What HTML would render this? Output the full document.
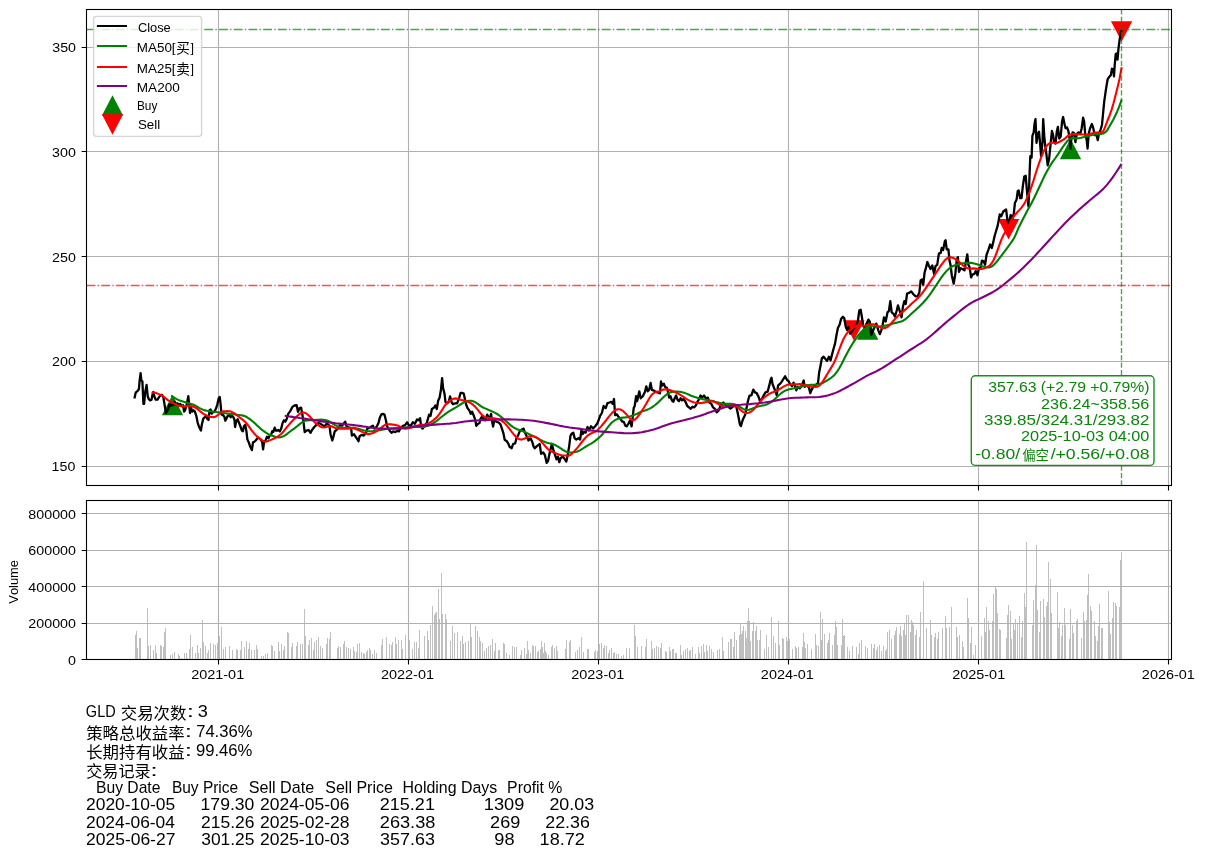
<!DOCTYPE html>
<html lang="zh"><head><meta charset="utf-8"><title>GLD</title>
<style>html,body{margin:0;padding:0;background:#fff}svg{display:block}text{font-family:"Liberation Sans",sans-serif;font-kerning:none}</style></head>
<body>
<svg width="1205" height="857" viewBox="0 0 1205 857" font-family="'Liberation Sans', sans-serif">
<rect width="1205" height="857" fill="#fff"/>
<defs><filter id="nf" x="-5%" y="-5%" width="110%" height="110%" color-interpolation-filters="sRGB"><feOffset dx="0" dy="0"/></filter></defs>
<clipPath id="ca"><rect x="86.5" y="9.5" width="1085.0" height="476.0"/></clipPath>
<g clip-path="url(#ca)">
<path d="M218.5 9.5V485.5M408.5 9.5V485.5M598.5 9.5V485.5M788.5 9.5V485.5M978.5 9.5V485.5M1168.5 9.5V485.5M86.5 466.5H1171.5M86.5 361.5H1171.5M86.5 256.5H1171.5M86.5 151.5H1171.5M86.5 47.5H1171.5" stroke="#b0b0b0" stroke-width="1.1" fill="none"/>
<path d="M172.5 396.3L182.0 414.5H163.0Z" fill="#008000" stroke="#008000" stroke-width="1.39" stroke-miterlimit="10"/>
<path d="M853.9 339.1L863.4 320.9H844.4Z" fill="#f00" stroke="#f00" stroke-width="1.39" stroke-miterlimit="10"/>
<path d="M867.7 320.8L877.2 339.0H858.2Z" fill="#008000" stroke="#008000" stroke-width="1.39" stroke-miterlimit="10"/>
<path d="M1008.6 238.0L1018.1 219.8H999.1Z" fill="#f00" stroke="#f00" stroke-width="1.39" stroke-miterlimit="10"/>
<path d="M1070.5 140.3L1080.0 158.5H1061.0Z" fill="#008000" stroke="#008000" stroke-width="1.39" stroke-miterlimit="10"/>
<path d="M1121.6 40.1L1131.1 21.9H1112.1Z" fill="#f00" stroke="#f00" stroke-width="1.39" stroke-miterlimit="10"/>
<path d="M134.4 398.6L135.7 392.7L137.5 391.0L138.9 389.2L139.6 380.8L140.6 373.1L141.3 380.1L142.4 381.5L143.4 403.9L144.1 403.9L145.2 392.0L146.6 385.0L147.7 396.2L148.7 399.0L150.1 400.4L151.5 399.7L152.5 394.8L153.3 392.0L154.3 396.2L155.7 399.7L157.5 399.7L159.2 396.9L160.6 395.1L162.0 394.8L163.4 397.6L164.8 406.0L165.9 413.0L166.9 411.6L168.3 408.8L169.3 404.6L170.7 406.0L171.8 403.9L173.2 405.3L174.6 401.8L176.0 404.6L177.4 403.2L178.8 405.3L180.2 403.9L181.6 406.0L183.0 405.3L184.1 411.6L185.1 410.2L186.5 405.3L187.5 400.4L188.3 396.2L189.0 403.2L190.0 413.0L191.1 407.4L192.1 411.6L193.5 410.2L194.9 411.6L196.3 415.8L197.7 422.8L199.1 427.0L200.9 430.5L201.9 424.2L203.3 418.6L204.7 417.2L206.1 415.8L207.1 418.6L208.5 420.0L209.6 410.2L210.7 409.5L211.7 413.7L213.1 412.3L214.5 411.6L215.9 408.8L217.3 404.6L218.7 398.3L219.7 396.9L220.5 403.2L221.5 414.4L222.9 415.1L224.3 416.5L225.3 420.7L226.4 418.6L227.8 415.8L229.2 415.1L230.6 417.2L232.0 415.8L233.4 417.2L234.5 420.0L235.1 427.0L236.2 421.4L237.6 419.3L239.0 422.8L240.4 426.3L241.8 430.5L242.9 431.2L243.9 426.3L245.3 424.9L246.4 431.2L247.4 439.6L248.8 442.4L250.2 446.6L251.9 450.1L253.0 442.4L254.4 441.7L256.5 439.6L257.9 437.5L259.3 438.2L260.7 439.6L262.1 441.7L263.1 449.4L264.2 441.7L265.6 440.3L267.0 436.8L268.4 438.2L269.8 435.4L271.2 434.7L272.3 431.2L273.3 431.9L274.7 427.7L275.7 430.5L277.5 430.5L278.4 430.0L279.8 431.4L281.2 428.6L282.6 423.0L284.0 420.2L285.4 421.6L286.8 418.8L288.2 413.9L290.3 411.1L292.4 406.9L294.5 405.5L296.6 405.1L298.0 411.8L299.4 408.3L301.1 407.6L302.5 415.3L303.6 423.0L304.7 432.1L306.4 430.7L308.5 430.0L310.6 432.8L312.0 430.0L314.1 427.2L316.2 425.1L318.3 423.0L320.4 423.7L322.5 425.1L324.6 426.5L326.0 424.4L327.4 423.7L329.5 425.8L330.5 434.2L332.3 440.5L333.7 435.6L334.7 431.4L336.5 430.0L338.6 427.2L340.7 424.4L342.1 425.8L343.5 423.7L345.2 421.6L346.3 425.8L347.7 427.2L349.8 427.9L351.2 428.6L351.9 435.6L354.0 434.2L355.4 436.3L356.8 438.4L358.5 441.2L359.6 436.3L361.7 434.9L363.8 435.6L365.9 432.8L367.3 428.6L369.4 427.9L371.5 426.5L372.9 425.8L374.3 428.6L375.7 427.9L377.1 425.8L378.5 423.0L379.9 417.4L381.3 414.6L382.7 413.9L384.5 414.6L385.9 420.2L386.9 425.8L388.3 428.6L389.7 430.7L391.5 432.8L393.2 431.4L395.3 432.1L397.4 430.7L398.8 431.4L400.9 427.9L403.0 425.8L405.1 425.1L407.2 422.3L408.6 425.1L410.7 425.8L412.8 422.3L414.9 423.7L417.0 419.5L418.4 420.2L420.1 418.1L421.2 427.2L422.6 428.6L424.7 425.8L426.8 423.0L429.1 414.6L430.5 416.0L431.9 409.0L434.0 407.6L435.4 405.5L436.8 409.0L438.2 400.6L439.6 397.8L441.0 389.4L442.1 378.2L443.1 388.0L444.5 393.6L445.5 402.0L446.9 403.4L448.7 402.0L450.1 396.4L451.5 402.0L452.9 404.1L455.0 403.4L457.1 403.4L459.2 397.8L460.6 392.9L462.0 392.9L463.7 393.6L464.8 398.5L466.2 404.8L467.6 408.3L469.3 410.4L470.7 413.9L472.1 411.8L473.9 416.0L475.3 420.2L476.3 425.8L478.1 423.7L479.5 423.0L480.5 418.8L482.3 416.0L483.7 419.5L485.5 420.2L487.2 414.6L488.6 417.4L490.0 418.1L491.1 413.9L492.1 421.6L493.1 426.5L494.2 420.2L496.3 421.6L498.4 422.3L500.5 424.4L501.9 428.6L503.3 432.8L504.7 439.8L506.8 441.2L508.5 444.0L509.6 446.8L511.7 448.2L513.1 444.0L515.2 443.3L516.6 437.7L518.0 435.6L519.7 431.4L521.1 430.0L523.6 428.6L525.0 432.8L526.4 435.6L528.5 440.5L530.6 438.4L532.0 441.2L533.7 446.8L534.8 448.2L536.9 446.1L539.7 444.0L541.1 453.8L543.2 452.4L544.9 455.2L546.7 462.9L548.1 460.8L549.5 453.8L550.5 449.6L551.9 444.0L553.3 449.6L555.1 455.2L556.5 459.4L557.9 456.6L559.3 462.2L560.7 458.0L562.8 456.6L564.9 459.4L566.3 461.5L567.7 455.2L569.1 446.8L570.5 435.6L571.9 433.5L573.3 432.8L574.7 438.4L576.3 439.6L578.4 438.2L580.1 439.6L581.5 429.8L582.6 434.0L584.0 431.9L585.7 432.6L587.5 427.0L588.9 430.5L591.0 426.3L593.1 428.4L595.2 426.3L597.3 423.5L598.7 420.0L600.1 415.8L601.9 413.0L603.6 406.0L605.7 408.1L607.5 403.2L609.5 402.5L611.3 401.8L612.7 403.9L614.0 399.0L614.5 406.0L615.1 415.1L616.9 414.4L618.3 416.5L620.4 418.6L622.1 421.4L623.9 422.1L625.3 425.6L626.7 426.3L628.5 423.5L629.9 420.7L631.6 426.3L632.7 417.2L633.7 408.1L634.7 406.0L636.1 396.2L637.2 401.1L639.3 391.3L640.7 398.3L642.8 396.2L644.9 392.0L646.3 386.4L647.7 391.3L649.1 389.9L650.6 382.9L651.9 389.9L654.0 390.6L656.1 392.0L658.2 392.7L660.0 393.4L661.0 381.5L662.1 385.7L663.8 383.6L665.2 387.1L666.9 387.8L668.0 392.0L669.1 397.6L670.5 396.2L671.9 400.4L673.3 401.8L674.7 398.3L676.1 395.5L677.5 399.7L678.9 401.1L680.6 398.3L682.0 400.4L683.7 399.0L685.5 401.8L687.3 406.0L689.0 407.4L690.7 408.8L692.5 406.7L694.3 407.4L696.0 405.3L697.4 401.8L698.8 399.7L700.5 395.5L702.3 397.6L704.1 395.5L705.8 398.3L707.9 397.6L709.3 402.5L711.4 403.9L713.1 407.4L714.9 408.8L716.7 412.3L718.4 410.9L720.5 406.0L721.9 403.9L723.3 402.5L725.6 405.0L727.7 406.4L730.5 408.5L733.3 406.4L736.1 405.7L737.5 412.0L738.9 419.0L739.9 424.6L741.0 426.0L742.1 421.8L743.1 419.0L745.2 414.8L746.6 407.8L748.0 400.8L749.4 395.9L751.5 395.2L753.3 389.6L755.0 392.4L756.7 393.1L758.5 396.6L759.9 400.8L761.3 400.1L763.4 395.9L765.5 392.4L767.6 391.7L769.3 385.4L770.4 380.5L771.5 377.7L772.5 384.0L773.9 387.5L775.3 391.0L776.7 395.2L778.1 385.4L779.9 384.0L781.6 381.9L783.3 379.1L785.1 376.3L786.9 379.8L788.6 381.2L790.0 384.0L792.1 386.1L793.5 382.6L794.9 385.4L796.3 390.3L797.7 386.8L799.8 388.2L801.9 385.4L803.7 380.5L804.7 386.8L806.8 385.4L808.9 387.5L810.3 393.1L811.7 389.6L813.5 386.1L815.9 384.7L818.0 383.3L819.1 372.8L820.5 365.8L821.9 358.1L823.6 356.7L825.3 358.8L827.1 360.9L828.9 356.7L830.6 360.2L832.0 354.6L833.7 348.3L835.1 343.4L836.5 335.0L837.9 328.0L839.7 324.5L841.1 318.9L842.9 316.8L844.3 318.2L845.7 326.6L847.1 330.1L848.5 327.3L850.2 333.6L852.3 330.8L854.1 328.0L856.1 325.2L857.9 321.0L859.3 310.5L860.7 309.8L862.1 318.2L863.1 325.9L864.9 327.3L866.3 324.5L868.4 319.6L869.8 321.7L871.2 335.0L873.3 330.1L876.3 323.6L878.4 330.6L879.8 334.1L881.2 330.6L882.6 325.0L884.0 317.3L885.7 321.5L887.5 312.4L888.9 311.0L890.3 301.2L891.7 312.4L893.5 313.8L894.9 316.6L896.6 311.0L898.0 305.4L899.7 311.0L901.5 317.3L902.9 306.8L904.3 301.2L905.7 304.0L907.1 293.5L909.2 292.8L911.3 291.4L913.4 294.2L915.5 296.3L917.6 296.3L919.3 292.8L920.7 280.2L922.1 279.5L923.2 285.1L924.6 272.5L926.0 267.6L927.4 262.0L928.8 265.5L930.5 269.0L932.3 265.5L934.1 273.9L935.5 266.2L937.2 264.8L938.9 253.6L940.7 252.9L941.7 248.0L943.1 250.1L944.9 241.0L945.6 240.3L946.7 249.4L948.4 249.4L949.5 260.6L950.5 264.8L951.9 276.0L953.7 283.7L955.4 273.2L956.8 259.2L957.9 257.1L959.0 271.8L960.7 268.3L962.4 269.0L964.5 270.4L965.9 262.0L967.3 254.3L968.4 264.8L969.7 267.6L971.1 277.4L972.5 274.6L974.3 273.9L975.7 271.1L977.5 275.3L978.9 268.3L980.6 267.6L982.0 260.6L983.7 261.3L985.1 264.8L986.5 255.0L988.3 250.1L990.1 244.5L991.8 248.0L993.2 242.4L994.6 236.1L996.0 231.2L997.7 225.6L999.8 214.3L1001.2 216.4L1003.3 211.5L1006.1 209.4L1007.5 220.6L1008.9 223.4L1010.7 215.0L1012.4 219.2L1013.8 213.6L1014.9 203.1L1016.6 199.6L1017.7 191.2L1018.7 190.5L1020.1 198.2L1021.5 198.2L1022.9 185.6L1024.3 176.5L1025.7 175.8L1027.1 192.6L1028.5 206.6L1029.5 175.8L1030.3 156.2L1031.6 157.6L1032.4 135.9L1033.7 132.4L1034.5 124.0L1035.5 119.1L1036.5 142.9L1037.9 133.8L1039.0 131.7L1040.1 143.6L1041.1 156.2L1042.5 142.2L1043.2 119.1L1044.3 136.6L1045.3 146.4L1046.3 153.4L1047.7 165.3L1049.1 159.0L1050.5 145.0L1051.9 131.0L1053.0 134.5L1054.1 142.2L1055.5 143.6L1056.9 131.0L1057.9 126.8L1059.3 138.7L1060.7 136.6L1062.1 121.2L1063.1 117.0L1064.5 124.0L1065.6 128.2L1067.0 127.5L1068.4 131.0L1069.5 138.0L1070.5 148.5L1071.5 138.0L1072.6 132.4L1074.0 133.1L1075.4 142.2L1076.8 133.8L1078.5 132.4L1080.3 133.8L1081.7 128.2L1083.1 117.7L1084.1 121.2L1085.2 133.8L1086.6 139.4L1087.6 148.5L1088.7 133.8L1090.1 128.2L1091.9 124.0L1093.3 128.2L1094.7 135.2L1096.4 134.5L1097.8 140.1L1098.9 133.8L1100.6 129.6L1102.0 124.7L1104.2 101.6L1105.6 91.8L1106.7 84.8L1107.7 79.2L1109.1 77.1L1110.9 75.0L1111.9 68.7L1113.3 69.4L1114.0 76.4L1114.7 65.2L1115.7 54.0L1117.1 53.3L1117.5 59.6L1118.5 48.4L1119.6 40.0L1120.7 33.0L1121.7 30.2" stroke="#000" stroke-width="2.3" fill="none" stroke-linejoin="round" stroke-linecap="butt"/>
<path d="M171.1 395.5L173.1 396.9L175.1 398.2L177.1 399.4L179.1 400.2L181.1 400.9L183.1 401.6L185.1 402.2L187.1 402.8L189.1 403.3L191.1 403.9L193.1 404.6L195.1 405.5L197.1 406.6L199.1 407.8L201.1 408.9L203.1 409.8L205.1 410.4L207.1 410.8L209.1 411.1L211.1 411.3L213.1 411.6L215.1 411.8L217.1 412.1L219.1 412.3L221.1 412.6L223.1 412.9L225.1 413.2L227.1 413.5L229.1 413.8L231.1 414.0L233.1 414.3L235.1 414.5L237.1 414.8L239.1 415.0L241.1 415.2L243.1 415.6L245.1 416.3L247.1 417.3L249.1 418.6L251.1 420.1L253.1 421.7L255.1 423.5L257.1 425.5L259.1 427.3L261.1 429.1L263.1 430.7L265.1 432.1L267.1 433.4L269.1 434.5L271.1 435.4L273.1 436.1L275.1 436.8L277.1 437.2L279.1 437.4L281.1 437.1L283.1 436.4L285.1 435.3L287.1 433.9L289.1 432.3L291.1 430.7L293.1 429.3L295.1 427.9L297.1 426.3L299.1 424.6L301.1 423.0L303.1 421.6L305.1 420.8L307.1 420.4L309.1 420.2L311.1 420.2L313.1 420.1L315.1 420.0L317.1 419.8L319.1 419.7L321.1 419.6L323.1 419.8L325.1 420.1L327.1 420.6L329.1 421.3L331.1 422.5L333.1 423.8L335.1 425.1L337.1 426.2L339.1 427.0L341.1 427.6L343.1 427.8L345.1 427.8L347.1 427.7L349.1 427.6L351.1 427.7L353.1 427.8L355.1 428.1L357.1 428.5L359.1 428.9L361.1 429.6L363.1 430.2L365.1 430.8L367.1 431.2L369.1 431.3L371.1 431.2L373.1 431.0L375.1 430.7L377.1 430.4L379.1 430.2L381.1 429.9L383.1 429.5L385.1 429.1L387.1 428.8L389.1 428.6L391.1 428.4L393.1 428.2L395.1 428.1L397.1 428.0L399.1 427.9L401.1 427.9L403.1 427.8L405.1 427.6L407.1 427.4L409.1 427.2L411.1 427.1L413.1 427.0L415.1 426.9L417.1 426.9L419.1 426.9L421.1 427.0L423.1 427.0L425.1 426.6L427.1 426.0L429.1 425.2L431.1 424.3L433.1 423.2L435.1 422.0L437.1 420.6L439.1 419.0L441.1 417.3L443.1 415.7L445.1 414.1L447.1 412.7L449.1 411.4L451.1 410.1L453.1 409.0L455.1 407.8L457.1 406.6L459.1 405.3L461.1 404.0L463.1 402.8L465.1 401.8L467.1 401.2L469.1 400.8L471.1 400.8L473.1 401.2L475.1 402.1L477.1 403.3L479.1 404.8L481.1 406.3L483.1 407.5L485.1 408.4L487.1 409.2L489.1 410.1L491.1 411.0L493.1 411.9L495.1 412.9L497.1 414.0L499.1 415.3L501.1 416.9L503.1 418.5L505.1 420.2L507.1 422.0L509.1 423.9L511.1 425.6L513.1 427.1L515.1 428.3L517.1 429.2L519.1 429.9L521.1 430.6L523.1 431.3L525.1 432.2L527.1 433.1L529.1 434.1L531.1 435.1L533.1 436.1L535.1 437.1L537.1 438.1L539.1 439.1L541.1 440.1L543.1 441.1L545.1 442.0L547.1 442.7L549.1 443.2L551.1 443.6L553.1 444.1L555.1 445.0L557.1 446.1L559.1 447.4L561.1 448.7L563.1 450.0L565.1 451.2L567.1 452.0L569.1 452.4L571.1 452.5L573.1 452.3L575.1 452.0L577.1 451.6L579.1 450.8L581.1 449.7L583.1 448.4L585.1 447.0L587.1 445.8L589.1 444.7L591.1 443.6L593.1 442.4L595.1 440.9L597.1 439.4L599.1 437.6L601.1 435.7L603.1 433.5L605.1 431.0L607.1 428.2L609.1 425.6L611.1 423.3L613.1 421.5L615.1 420.1L617.1 419.1L619.1 418.4L621.1 417.9L623.1 417.6L625.1 417.4L627.1 417.1L629.1 416.7L631.1 416.1L633.1 415.4L635.1 414.6L637.1 413.7L639.1 412.7L641.1 411.8L643.1 411.1L645.1 410.4L647.1 409.7L649.1 408.9L651.1 407.8L653.1 406.5L655.1 405.0L657.1 403.4L659.1 401.5L661.1 399.6L663.1 397.6L665.1 395.7L667.1 394.0L669.1 392.8L671.1 392.1L673.1 391.7L675.1 391.6L677.1 391.5L679.1 391.7L681.1 391.9L683.1 392.4L685.1 393.1L687.1 393.9L689.1 394.8L691.1 395.7L693.1 396.4L695.1 397.1L697.1 397.7L699.1 398.3L701.1 398.8L703.1 399.3L705.1 399.7L707.1 400.0L709.1 400.4L711.1 400.7L713.1 401.1L715.1 401.7L717.1 402.2L719.1 402.7L721.1 403.2L723.1 403.6L725.1 403.8L727.1 403.9L729.1 403.9L731.1 403.9L733.1 404.1L735.1 404.5L737.1 405.2L739.1 406.4L741.1 407.7L743.1 408.9L745.1 409.8L747.1 410.0L749.1 409.7L751.1 409.1L753.1 408.3L755.1 407.5L757.1 406.8L759.1 406.2L761.1 405.8L763.1 405.4L765.1 404.9L767.1 404.2L769.1 403.3L771.1 402.1L773.1 400.6L775.1 398.8L777.1 396.9L779.1 395.0L781.1 393.3L783.1 391.9L785.1 390.7L787.1 389.9L789.1 389.3L791.1 388.9L793.1 388.5L795.1 388.0L797.1 387.6L799.1 387.2L801.1 386.8L803.1 386.3L805.1 385.8L807.1 385.3L809.1 385.0L811.1 384.8L813.1 384.7L815.1 384.7L817.1 384.5L819.1 384.2L821.1 383.6L823.1 382.8L825.1 381.7L827.1 380.5L829.1 379.1L831.1 377.8L833.1 376.2L835.1 374.2L837.1 371.6L839.1 368.5L841.1 364.9L843.1 361.0L845.1 357.1L847.1 353.3L849.1 349.6L851.1 346.1L853.1 342.8L855.1 339.8L857.1 337.0L859.1 334.5L861.1 332.2L863.1 330.2L865.1 328.6L867.1 327.5L869.1 326.7L871.1 326.3L873.1 326.3L875.1 326.5L877.1 326.8L879.1 326.8L881.1 326.4L883.1 326.0L885.1 325.6L887.1 325.2L889.1 324.7L891.1 324.2L893.1 323.6L895.1 323.0L897.1 322.6L899.1 322.1L901.1 321.6L903.1 320.7L905.1 319.4L907.1 317.8L909.1 315.9L911.1 314.0L913.1 312.2L915.1 310.5L917.1 308.6L919.1 306.7L921.1 304.7L923.1 302.7L925.1 300.5L927.1 298.2L929.1 295.6L931.1 292.8L933.1 289.8L935.1 286.8L937.1 283.8L939.1 280.9L941.1 277.9L943.1 275.2L945.1 272.6L947.1 270.4L949.1 268.5L951.1 267.1L953.1 266.0L955.1 265.2L957.1 264.5L959.1 264.0L961.1 263.6L963.1 263.3L965.1 263.1L967.1 262.9L969.1 262.8L971.1 262.9L973.1 263.2L975.1 263.7L977.1 264.3L979.1 265.0L981.1 265.8L983.1 266.5L985.1 267.1L987.1 267.5L989.1 267.4L991.1 266.8L993.1 265.5L995.1 263.6L997.1 261.3L999.1 258.7L1001.1 256.1L1003.1 253.4L1005.1 250.8L1007.1 248.1L1009.1 245.4L1011.1 242.7L1013.1 239.7L1015.1 236.0L1017.1 231.3L1019.1 226.7L1021.1 222.7L1023.1 218.8L1025.1 214.9L1027.1 211.1L1029.1 207.6L1031.1 204.0L1033.1 200.1L1035.1 196.0L1037.1 191.8L1039.1 187.5L1041.1 183.2L1043.1 178.9L1045.1 174.8L1047.1 171.0L1049.1 167.4L1051.1 164.2L1053.1 161.2L1055.1 158.5L1057.1 155.6L1059.1 152.6L1061.1 149.6L1063.1 146.7L1065.1 143.8L1067.1 141.3L1069.1 139.4L1071.1 138.4L1073.1 138.1L1075.1 138.2L1077.1 138.4L1079.1 138.2L1081.1 137.8L1083.1 137.2L1085.1 136.8L1087.1 136.4L1089.1 135.8L1091.1 135.2L1093.1 134.8L1095.1 134.5L1097.1 134.3L1099.1 134.1L1101.1 133.9L1103.1 133.5L1105.1 132.4L1107.1 130.4L1109.1 127.0L1111.1 123.4L1113.1 119.9L1115.1 116.0L1117.1 111.7L1119.1 106.9L1121.1 101.3L1121.7 99.5" stroke="#008000" stroke-width="2.1" fill="none" stroke-linejoin="round" stroke-linecap="butt"/>
<path d="M151.5 392.7L153.5 392.5L155.5 392.8L157.5 393.6L159.5 394.4L161.5 395.4L163.5 396.6L165.5 398.2L167.5 399.9L169.5 401.2L171.5 402.3L173.5 403.3L175.5 404.3L177.5 405.2L179.5 405.9L181.5 406.3L183.5 406.3L185.5 406.2L187.5 405.8L189.5 405.8L191.5 406.1L193.5 406.7L195.5 407.7L197.5 409.1L199.5 410.8L201.5 412.4L203.5 413.8L205.5 415.0L207.5 416.0L209.5 416.7L211.5 417.0L213.5 417.1L215.5 416.7L217.5 415.4L219.5 413.4L221.5 411.7L223.5 411.3L225.5 411.2L227.5 411.1L229.5 411.2L231.5 411.8L233.5 412.9L235.5 414.2L237.5 415.7L239.5 417.3L241.5 418.8L243.5 420.4L245.5 422.3L247.5 424.6L249.5 427.4L251.5 430.2L253.5 432.7L255.5 434.9L257.5 436.8L259.5 438.4L261.5 439.9L263.5 441.1L265.5 441.7L267.5 441.3L269.5 440.4L271.5 439.6L273.5 438.7L275.5 437.7L277.5 436.7L279.5 435.3L281.5 433.7L283.5 431.5L285.5 428.9L287.5 426.4L289.5 424.1L291.5 421.8L293.5 419.8L295.5 417.8L297.5 415.8L299.5 414.0L301.5 412.7L303.5 412.4L305.5 413.0L307.5 414.5L309.5 416.3L311.5 418.5L313.5 420.9L315.5 422.9L317.5 424.6L319.5 426.1L321.5 427.2L323.5 427.5L325.5 427.2L327.5 426.5L329.5 425.9L331.5 426.2L333.5 427.2L335.5 428.0L337.5 428.5L339.5 428.8L341.5 428.8L343.5 428.7L345.5 428.6L347.5 428.6L349.5 428.4L351.5 428.1L353.5 428.3L355.5 428.9L357.5 429.7L359.5 430.6L361.5 431.6L363.5 432.6L365.5 433.5L367.5 434.1L369.5 434.1L371.5 433.6L373.5 432.8L375.5 431.8L377.5 430.6L379.5 429.3L381.5 427.6L383.5 425.9L385.5 424.7L387.5 424.2L389.5 424.2L391.5 424.4L393.5 424.7L395.5 424.9L397.5 425.4L399.5 426.5L401.5 427.7L403.5 428.4L405.5 428.6L407.5 428.4L409.5 428.0L411.5 427.4L413.5 426.8L415.5 426.1L417.5 425.6L419.5 425.2L421.5 424.9L423.5 424.7L425.5 424.3L427.5 423.8L429.5 422.9L431.5 421.6L433.5 420.1L435.5 418.4L437.5 416.4L439.5 413.8L441.5 410.9L443.5 407.7L445.5 404.7L447.5 402.5L449.5 400.8L451.5 399.6L453.5 398.7L455.5 398.4L457.5 398.7L459.5 399.4L461.5 400.0L463.5 400.4L465.5 400.9L467.5 401.5L469.5 402.4L471.5 403.7L473.5 405.2L475.5 407.1L477.5 409.4L479.5 412.0L481.5 414.4L483.5 416.2L485.5 417.2L487.5 417.6L489.5 417.9L491.5 418.1L493.5 418.3L495.5 418.6L497.5 419.0L499.5 419.6L501.5 420.6L503.5 422.1L505.5 424.1L507.5 426.4L509.5 428.9L511.5 431.6L513.5 434.1L515.5 436.3L517.5 438.1L519.5 439.3L521.5 439.6L523.5 439.0L525.5 438.1L527.5 437.1L529.5 436.3L531.5 435.9L533.5 436.1L535.5 436.9L537.5 438.1L539.5 439.8L541.5 441.8L543.5 444.1L545.5 446.5L547.5 448.7L549.5 450.4L551.5 451.5L553.5 452.4L555.5 453.3L557.5 454.1L559.5 454.8L561.5 455.3L563.5 455.5L565.5 455.5L567.5 455.6L569.5 455.5L571.5 454.1L573.5 452.1L575.5 449.9L577.5 447.6L579.5 445.1L581.5 442.5L583.5 440.0L585.5 437.7L587.5 435.7L589.5 434.3L591.5 433.2L593.5 432.4L595.5 431.5L597.5 430.0L599.5 428.1L601.5 425.9L603.5 423.5L605.5 421.0L607.5 418.3L609.5 415.9L611.5 413.6L613.5 411.6L615.5 410.0L617.5 409.2L619.5 409.3L621.5 410.0L623.5 411.4L625.5 413.4L627.5 415.6L629.5 418.0L631.5 419.9L633.5 420.3L635.5 419.1L637.5 417.0L639.5 414.4L641.5 411.4L643.5 408.3L645.5 405.0L647.5 401.5L649.5 398.0L651.5 395.0L653.5 393.3L655.5 392.2L657.5 391.6L659.5 391.2L661.5 390.3L663.5 389.5L665.5 389.2L667.5 389.4L669.5 390.1L671.5 390.8L673.5 391.5L675.5 392.3L677.5 393.3L679.5 394.4L681.5 395.6L683.5 397.0L685.5 398.3L687.5 399.6L689.5 400.6L691.5 401.6L693.5 402.2L695.5 402.7L697.5 403.0L699.5 403.1L701.5 403.0L703.5 402.6L705.5 402.2L707.5 401.8L709.5 401.4L711.5 401.3L713.5 401.5L715.5 402.3L717.5 403.5L719.5 404.9L721.5 405.7L723.5 406.1L725.5 406.2L727.5 406.1L729.5 405.9L731.5 405.5L733.5 405.6L735.5 406.1L737.5 407.2L739.5 409.1L741.5 410.8L743.5 412.2L745.5 413.0L747.5 413.0L749.5 412.4L751.5 411.3L753.5 409.7L755.5 407.3L757.5 404.7L759.5 402.3L761.5 400.1L763.5 398.2L765.5 396.5L767.5 395.0L769.5 393.7L771.5 392.8L773.5 392.0L775.5 391.2L777.5 390.2L779.5 389.1L781.5 387.8L783.5 386.6L785.5 385.6L787.5 384.8L789.5 384.5L791.5 384.4L793.5 384.4L795.5 384.4L797.5 384.2L799.5 384.1L801.5 384.4L803.5 384.9L805.5 385.4L807.5 385.9L809.5 386.4L811.5 386.8L813.5 387.0L815.5 387.0L817.5 386.7L819.5 385.6L821.5 383.3L823.5 380.4L825.5 377.1L827.5 373.7L829.5 370.4L831.5 367.1L833.5 363.7L835.5 359.5L837.5 354.4L839.5 349.0L841.5 343.7L843.5 339.0L845.5 335.4L847.5 332.5L849.5 330.5L851.5 328.8L853.5 327.4L855.5 326.3L857.5 325.6L859.5 325.4L861.5 325.5L863.5 325.7L865.5 325.6L867.5 325.1L869.5 324.6L871.5 324.2L873.5 324.3L875.5 325.1L877.5 326.0L879.5 326.9L881.5 327.8L883.5 328.2L885.5 327.9L887.5 326.9L889.5 325.1L891.5 323.0L893.5 320.7L895.5 318.4L897.5 316.4L899.5 314.5L901.5 312.7L903.5 311.1L905.5 309.4L907.5 307.7L909.5 305.8L911.5 303.8L913.5 302.0L915.5 300.3L917.5 298.5L919.5 296.4L921.5 294.1L923.5 291.4L925.5 288.6L927.5 285.6L929.5 282.6L931.5 279.6L933.5 276.6L935.5 273.6L937.5 270.6L939.5 267.6L941.5 264.7L943.5 262.0L945.5 259.6L947.5 258.1L949.5 257.4L951.5 257.4L953.5 258.1L955.5 259.2L957.5 260.5L959.5 262.2L961.5 263.9L963.5 265.9L965.5 267.5L967.5 268.3L969.5 268.8L971.5 268.6L973.5 268.4L975.5 268.6L977.5 268.9L979.5 269.0L981.5 268.9L983.5 268.5L985.5 267.8L987.5 266.9L989.5 265.7L991.5 263.5L993.5 260.2L995.5 255.7L997.5 250.3L999.5 244.7L1001.5 239.4L1003.5 235.0L1005.5 231.8L1007.5 228.2L1009.5 224.0L1011.5 220.0L1013.5 216.9L1015.5 214.2L1017.5 212.0L1019.5 209.9L1021.5 207.6L1023.5 204.9L1025.5 201.4L1027.5 197.2L1029.5 192.2L1031.5 186.7L1033.5 180.6L1035.5 174.0L1037.5 167.7L1039.5 161.8L1041.5 156.5L1043.5 151.8L1045.5 147.7L1047.5 144.8L1049.5 143.3L1051.5 142.6L1053.5 142.8L1055.5 143.2L1057.5 142.7L1059.5 141.7L1061.5 140.7L1063.5 139.6L1065.5 138.1L1067.5 136.2L1069.5 134.8L1071.5 134.2L1073.5 134.1L1075.5 134.1L1077.5 134.3L1079.5 134.4L1081.5 134.5L1083.5 134.5L1085.5 134.7L1087.5 134.7L1089.5 134.2L1091.5 133.5L1093.5 132.9L1095.5 132.6L1097.5 132.5L1099.5 132.6L1101.5 132.3L1103.5 130.9L1105.5 126.0L1107.5 120.5L1109.5 115.6L1111.5 110.0L1113.5 103.2L1115.5 95.6L1117.5 87.6L1119.5 78.9L1121.7 67.3" stroke="#f00" stroke-width="2.1" fill="none" stroke-linejoin="round" stroke-linecap="butt"/>
<path d="M284.7 415.7L287.7 416.2L290.7 416.6L293.7 417.1L296.7 417.5L299.7 418.0L302.7 418.4L305.7 418.9L308.7 419.4L311.7 419.8L314.7 420.3L317.7 420.7L320.7 421.1L323.7 421.6L326.7 422.0L329.7 422.5L332.7 422.9L335.7 423.3L338.7 423.6L341.7 423.9L344.7 424.2L347.7 424.5L350.7 424.8L353.7 425.1L356.7 425.5L359.7 425.9L362.7 426.4L365.7 426.8L368.7 427.3L371.7 427.7L374.7 428.0L377.7 428.3L380.7 428.5L383.7 428.6L386.7 428.7L389.7 428.8L392.7 428.8L395.7 428.7L398.7 428.6L401.7 428.3L404.7 428.0L407.7 427.5L410.7 427.1L413.7 426.6L416.7 426.2L419.7 425.9L422.7 425.6L425.7 425.4L428.7 425.1L431.7 424.9L434.7 424.6L437.7 424.4L440.7 424.2L443.7 424.0L446.7 423.8L449.7 423.6L452.7 423.3L455.7 423.0L458.7 422.5L461.7 422.0L464.7 421.5L467.7 421.2L470.7 420.9L473.7 420.6L476.7 420.5L479.7 420.3L482.7 420.2L485.7 420.1L488.7 419.9L491.7 419.8L494.7 419.7L497.7 419.5L500.7 419.4L503.7 419.4L506.7 419.4L509.7 419.4L512.7 419.5L515.7 419.5L518.7 419.7L521.7 419.8L524.7 420.0L527.7 420.2L530.7 420.5L533.7 420.8L536.7 421.3L539.7 421.8L542.7 422.3L545.7 422.9L548.7 423.4L551.7 424.0L554.7 424.6L557.7 425.2L560.7 425.9L563.7 426.5L566.7 427.0L569.7 427.5L572.7 427.9L575.7 428.2L578.7 428.6L581.7 429.1L584.7 429.5L587.7 430.0L590.7 430.4L593.7 430.7L596.7 431.1L599.7 431.4L602.7 431.6L605.7 431.9L608.7 432.1L611.7 432.3L614.7 432.5L617.7 432.7L620.7 432.9L623.7 433.1L626.7 433.2L629.7 433.2L632.7 433.1L635.7 432.9L638.7 432.6L641.7 432.2L644.7 431.6L647.7 431.0L650.7 430.2L653.7 429.4L656.7 428.5L659.7 427.4L662.7 426.3L665.7 425.2L668.7 424.2L671.7 423.3L674.7 422.6L677.7 421.8L680.7 421.0L683.7 420.3L686.7 419.5L689.7 418.8L692.7 418.0L695.7 417.1L698.7 416.2L701.7 415.2L704.7 414.2L707.7 413.1L710.7 412.1L713.7 411.0L716.7 410.0L719.7 409.0L722.7 408.0L725.7 407.1L728.7 406.3L731.7 405.7L734.7 405.3L737.7 405.0L740.7 404.8L743.7 404.5L746.7 404.3L749.7 404.1L752.7 403.8L755.7 403.5L758.7 403.2L761.7 402.8L764.7 402.5L767.7 402.0L770.7 401.5L773.7 400.9L776.7 400.4L779.7 399.8L782.7 399.2L785.7 398.7L788.7 398.3L791.7 398.0L794.7 397.8L797.7 397.7L800.7 397.6L803.7 397.5L806.7 397.4L809.7 397.3L812.7 397.3L815.7 397.2L818.7 397.0L821.7 396.6L824.7 396.1L827.7 395.5L830.7 394.6L833.7 393.6L836.7 392.4L839.7 391.0L842.7 389.4L845.7 387.8L848.7 386.2L851.7 384.5L854.7 382.9L857.7 381.1L860.7 379.4L863.7 377.6L866.7 375.9L869.7 374.4L872.7 373.0L875.7 371.6L878.7 370.0L881.7 368.3L884.7 366.5L887.7 364.6L890.7 362.6L893.7 360.7L896.7 358.7L899.7 356.8L902.7 354.8L905.7 352.9L908.7 350.9L911.7 349.0L914.7 347.1L917.7 345.2L920.7 343.3L923.7 341.3L926.7 339.1L929.7 336.7L932.7 334.2L935.7 331.6L938.7 328.9L941.7 326.3L944.7 323.6L947.7 321.0L950.7 318.6L953.7 316.1L956.7 313.7L959.7 311.3L962.7 308.9L965.7 306.6L968.7 304.5L971.7 302.6L974.7 301.0L977.7 299.6L980.7 298.2L983.7 296.8L986.7 295.3L989.7 293.8L992.7 292.2L995.7 290.4L998.7 288.4L1001.7 286.2L1004.7 283.8L1007.7 281.3L1010.7 278.9L1013.7 276.4L1016.7 273.8L1019.7 271.1L1022.7 268.2L1025.7 265.3L1028.7 262.3L1031.7 259.3L1034.7 256.1L1037.7 252.8L1040.7 249.6L1043.7 246.3L1046.7 243.0L1049.7 239.7L1052.7 236.4L1055.7 233.2L1058.7 229.9L1061.7 226.7L1064.7 223.6L1067.7 220.6L1070.7 217.6L1073.7 214.7L1076.7 211.9L1079.7 209.1L1082.7 206.5L1085.7 203.9L1088.7 201.3L1091.7 198.8L1094.7 196.3L1097.7 193.9L1100.7 191.3L1103.7 188.4L1106.7 185.1L1109.7 181.4L1112.7 177.4L1115.7 173.0L1118.7 168.4L1121.6 163.9" stroke="#800080" stroke-width="2.1" fill="none" stroke-linejoin="round" stroke-linecap="butt"/>
<path d="M86.5 29.5H1171.5" stroke="#008000" stroke-opacity=".7" stroke-width="1.39" stroke-dasharray="8.89 2.22 1.39 2.22" fill="none"/>
<path d="M86.5 285.5H1171.5" stroke="#f00" stroke-opacity=".7" stroke-width="1.39" stroke-dasharray="8.89 2.22 1.39 2.22" fill="none"/>
<path d="M1121.5 485.5V9.5" stroke="#008000" stroke-opacity=".7" stroke-width="1.39" stroke-dasharray="5.14 2.22" fill="none"/>
</g>
<rect x="971.3" y="375.8" width="182.7" height="89.6" rx="4" ry="4" fill="#fff" fill-opacity=".9" stroke="#008000" stroke-opacity=".9" stroke-width="1.39"/>
<g filter="url(#nf)">
<text transform="translate(988.20 392.00) scale(1.0594 1)" font-size="14.9" fill="#0a850a">357.63 (+2.79 +0.79%)</text>
<text transform="translate(1041.09 409.10) scale(1.0849 1)" font-size="14.9" fill="#0a850a">236.24~358.56</text>
<text transform="translate(984.05 425.10) scale(1.1414 1)" font-size="14.9" fill="#0a850a">339.85/324.31/293.82</text>
<text transform="translate(1021.08 441.40) scale(1.0902 1)" font-size="14.9" fill="#0a850a">2025-10-03 04:00</text>
<text transform="translate(975.22 458.60) scale(1.1779 1)" font-size="14.9" fill="#0a850a">-0.80/</text>
<text x="1022.2" y="459.6" font-size="13.4" fill="#0a850a" textLength="26.8" lengthAdjust="spacingAndGlyphs" style="font-family:'Liberation Sans','Noto Sans CJK SC',sans-serif">偏空</text>
<text transform="translate(1050.70 458.60) scale(1.1826 1)" font-size="14.9" fill="#0a850a">/+0.56/+0.08</text>
</g>
<rect x="86.5" y="9.5" width="1085.0" height="476.0" fill="none" stroke="#000" stroke-width="1.1"/>
<path d="M218.5 485.5v4.9M408.5 485.5v4.9M598.5 485.5v4.9M788.5 485.5v4.9M978.5 485.5v4.9M1168.5 485.5v4.9M86.5 466.5h-4.9M86.5 361.5h-4.9M86.5 256.5h-4.9M86.5 151.5h-4.9M86.5 47.5h-4.9M218.5 659.5v4.9M408.5 659.5v4.9M598.5 659.5v4.9M788.5 659.5v4.9M978.5 659.5v4.9M1168.5 659.5v4.9M86.5 659.5h-4.9M86.5 623.5h-4.9M86.5 586.5h-4.9M86.5 550.5h-4.9M86.5 513.5h-4.9" stroke="#000" stroke-width="1.1" fill="none"/>
<g filter="url(#nf)">
<text transform="translate(51.55 471.00) scale(1.1150 1)" font-size="12.8" fill="#000">150</text>
<text transform="translate(52.05 366.40) scale(1.1150 1)" font-size="12.8" fill="#000">200</text>
<text transform="translate(52.05 261.80) scale(1.1150 1)" font-size="12.8" fill="#000">250</text>
<text transform="translate(52.05 156.80) scale(1.1150 1)" font-size="12.8" fill="#000">300</text>
<text transform="translate(52.25 52.00) scale(1.1150 1)" font-size="12.8" fill="#000">350</text>
</g>
<rect x="93.6" y="16.4" width="108" height="120" rx="2.8" ry="2.8" fill="#fff" fill-opacity=".8" stroke="#ccc" stroke-opacity=".8" stroke-width="1.39"/>
<path d="M96.9 26H127" stroke="#000" stroke-width="2.05"/>
<path d="M96.9 46H127" stroke="#008000" stroke-width="2.05"/>
<path d="M96.9 67H127" stroke="#f00" stroke-width="2.05"/>
<path d="M96.9 86H127" stroke="#800080" stroke-width="2.05"/>
<path d="M112.5 96.8L122.0 115.0H103.0Z" fill="#008000" stroke="#008000" stroke-width="1.39" stroke-miterlimit="10"/>
<path d="M112.5 133.2L122.0 115.0H103.0Z" fill="#f00" stroke="#f00" stroke-width="1.39" stroke-miterlimit="10"/>
<g filter="url(#nf)">
<text transform="translate(137.95 32.30) scale(1.0030 1)" font-size="12.8" fill="#000">Close</text>
<text transform="translate(136.80 51.70) scale(1.0490 1)" font-size="12.8" fill="#000">MA50[</text>
<text x="176.3" y="52.8" font-size="13.6" fill="#000" textLength="13.6" lengthAdjust="spacingAndGlyphs" style="font-family:'Liberation Sans','Noto Sans CJK SC',sans-serif">买</text>
<text transform="translate(190.60 51.70) scale(0.9828 1)" font-size="12.8" fill="#000">]</text>
<text transform="translate(136.80 72.60) scale(1.0490 1)" font-size="12.8" fill="#000">MA25[</text>
<text x="176.3" y="73.7" font-size="13.6" fill="#000" textLength="13.6" lengthAdjust="spacingAndGlyphs" style="font-family:'Liberation Sans','Noto Sans CJK SC',sans-serif">卖</text>
<text transform="translate(190.60 72.60) scale(0.9828 1)" font-size="12.8" fill="#000">]</text>
<text transform="translate(136.79 91.90) scale(1.0614 1)" font-size="12.8" fill="#000">MA200</text>
<text transform="translate(136.93 109.80) scale(0.9246 1)" font-size="12.8" fill="#000">Buy</text>
<text transform="translate(138.00 128.70) scale(1.0399 1)" font-size="12.8" fill="#000">Sell</text>
</g>
<clipPath id="cv"><rect x="86.5" y="500.5" width="1085.0" height="159.0"/></clipPath>
<g clip-path="url(#cv)">
<path d="M135.5 659.5v-24.5M136.5 659.5v-29.0M137.5 659.5v-11.5M139.5 659.5v-21.5M140.5 659.5v-21.5M147.5 659.5v-51.5M148.5 659.5v-13.6M150.5 659.5v-14.1M153.5 659.5v-10.0M155.5 659.5v-14.9M156.5 659.5v-6.9M160.5 659.5v-14.4M161.5 659.5v-14.0M163.5 659.5v-12.8M164.5 659.5v-27.5M165.5 659.5v-31.5M170.5 659.5v-4.5M172.5 659.5v-5.3M174.5 659.5v-7.4M178.5 659.5v-5.6M179.5 659.5v-3.3M181.5 659.5v-1.9M184.5 659.5v-6.5M186.5 659.5v-6.5M187.5 659.5v-1.5M189.5 659.5v-11.0M190.5 659.5v-24.5M192.5 659.5v-13.0M195.5 659.5v-6.4M197.5 659.5v-14.7M198.5 659.5v-6.8M200.5 659.5v-11.2M202.5 659.5v-39.5M203.5 659.5v-17.6M205.5 659.5v-13.5M207.5 659.5v-6.7M208.5 659.5v-10.0M210.5 659.5v-16.3M213.5 659.5v-15.3M215.5 659.5v-14.9M217.5 659.5v-16.5M219.5 659.5v-23.1M221.5 659.5v-32.5M223.5 659.5v-10.1M225.5 659.5v-12.5M229.5 659.5v-13.9M232.5 659.5v-9.1M236.5 659.5v-10.2M237.5 659.5v-9.5M240.5 659.5v-9.6M241.5 659.5v-18.3M244.5 659.5v-12.1M246.5 659.5v-18.5M248.5 659.5v-10.2M249.5 659.5v-16.8M251.5 659.5v-9.3M254.5 659.5v-9.9M256.5 659.5v-14.3M257.5 659.5v-10.5M261.5 659.5v-3.6M263.5 659.5v-3.7M265.5 659.5v-5.7M267.5 659.5v-7.0M271.5 659.5v-14.8M272.5 659.5v-13.8M274.5 659.5v-8.6M278.5 659.5v-17.4M279.5 659.5v-8.7M281.5 659.5v-15.2M283.5 659.5v-9.1M284.5 659.5v-13.4M287.5 659.5v-27.1M288.5 659.5v-26.7M291.5 659.5v-13.0M292.5 659.5v-16.6M296.5 659.5v-13.7M297.5 659.5v-17.7M300.5 659.5v-15.9M302.5 659.5v-15.8M304.5 659.5v-50.5M305.5 659.5v-23.4M308.5 659.5v-14.7M309.5 659.5v-19.6M311.5 659.5v-21.1M313.5 659.5v-9.8M314.5 659.5v-17.7M316.5 659.5v-19.1M318.5 659.5v-22.3M320.5 659.5v-13.5M322.5 659.5v-11.7M326.5 659.5v-15.4M327.5 659.5v-21.9M329.5 659.5v-20.5M330.5 659.5v-27.5M337.5 659.5v-11.7M338.5 659.5v-14.0M340.5 659.5v-13.0M343.5 659.5v-15.5M344.5 659.5v-18.3M346.5 659.5v-12.4M348.5 659.5v-12.0M350.5 659.5v-10.9M353.5 659.5v-12.5M354.5 659.5v-8.2M356.5 659.5v-7.9M357.5 659.5v-15.4M359.5 659.5v-16.4M361.5 659.5v-7.8M363.5 659.5v-6.2M364.5 659.5v-5.5M366.5 659.5v-7.7M367.5 659.5v-9.1M369.5 659.5v-11.7M370.5 659.5v-9.5M372.5 659.5v-5.7M374.5 659.5v-9.8M376.5 659.5v-7.0M381.5 659.5v-14.8M382.5 659.5v-20.5M386.5 659.5v-22.5M389.5 659.5v-15.6M391.5 659.5v-14.5M392.5 659.5v-17.2M395.5 659.5v-22.7M396.5 659.5v-15.7M398.5 659.5v-19.4M401.5 659.5v-19.6M402.5 659.5v-10.9M405.5 659.5v-24.2M408.5 659.5v-12.7M409.5 659.5v-19.1M412.5 659.5v-10.3M414.5 659.5v-17.5M416.5 659.5v-17.9M418.5 659.5v-11.2M419.5 659.5v-29.5M424.5 659.5v-23.8M427.5 659.5v-28.2M428.5 659.5v-19.4M430.5 659.5v-34.5M432.5 659.5v-53.5M434.5 659.5v-44.7M435.5 659.5v-46.5M436.5 659.5v-47.9M438.5 659.5v-70.5M439.5 659.5v-40.5M441.5 659.5v-86.5M442.5 659.5v-45.5M445.5 659.5v-45.5M446.5 659.5v-40.4M450.5 659.5v-19.0M452.5 659.5v-33.5M454.5 659.5v-26.1M457.5 659.5v-28.0M460.5 659.5v-18.8M462.5 659.5v-23.7M463.5 659.5v-15.6M465.5 659.5v-17.6M468.5 659.5v-18.1M470.5 659.5v-36.0M471.5 659.5v-22.6M475.5 659.5v-33.5M477.5 659.5v-28.5M479.5 659.5v-22.5M480.5 659.5v-18.2M482.5 659.5v-16.5M484.5 659.5v-8.4M486.5 659.5v-11.5M488.5 659.5v-13.1M490.5 659.5v-14.8M492.5 659.5v-20.5M494.5 659.5v-8.1M495.5 659.5v-16.7M498.5 659.5v-9.5M499.5 659.5v-9.5M503.5 659.5v-16.6M504.5 659.5v-15.5M506.5 659.5v-6.4M509.5 659.5v-4.6M512.5 659.5v-13.7M514.5 659.5v-12.3M516.5 659.5v-12.3M520.5 659.5v-4.9M521.5 659.5v-9.9M524.5 659.5v-11.1M526.5 659.5v-5.4M527.5 659.5v-18.5M528.5 659.5v-9.4M530.5 659.5v-6.2M532.5 659.5v-14.2M533.5 659.5v-13.5M535.5 659.5v-13.8M537.5 659.5v-7.5M538.5 659.5v-8.9M540.5 659.5v-10.2M541.5 659.5v-18.5M542.5 659.5v-12.7M543.5 659.5v-6.1M544.5 659.5v-16.5M545.5 659.5v-8.3M546.5 659.5v-6.3M548.5 659.5v-4.6M551.5 659.5v-12.7M552.5 659.5v-14.1M554.5 659.5v-11.7M556.5 659.5v-13.6M557.5 659.5v-8.7M565.5 659.5v-11.0M566.5 659.5v-19.4M569.5 659.5v-17.1M570.5 659.5v-19.5M575.5 659.5v-7.9M577.5 659.5v-9.5M579.5 659.5v-12.6M581.5 659.5v-22.5M583.5 659.5v-7.1M587.5 659.5v-10.1M588.5 659.5v-10.8M594.5 659.5v-7.4M595.5 659.5v-9.1M597.5 659.5v-8.8M599.5 659.5v-15.4M601.5 659.5v-16.2M603.5 659.5v-12.0M604.5 659.5v-14.2M606.5 659.5v-13.6M608.5 659.5v-6.3M609.5 659.5v-10.0M611.5 659.5v-11.7M613.5 659.5v-6.9M614.5 659.5v-7.8M616.5 659.5v-5.8M618.5 659.5v-5.8M621.5 659.5v-3.6M623.5 659.5v-4.7M626.5 659.5v-11.1M629.5 659.5v-11.9M634.5 659.5v-34.5M635.5 659.5v-23.5M637.5 659.5v-12.7M641.5 659.5v-13.3M645.5 659.5v-12.6M646.5 659.5v-20.5M651.5 659.5v-18.5M652.5 659.5v-10.9M654.5 659.5v-11.7M656.5 659.5v-13.1M658.5 659.5v-12.2M660.5 659.5v-11.7M661.5 659.5v-16.6M665.5 659.5v-8.7M666.5 659.5v-7.5M669.5 659.5v-12.7M670.5 659.5v-8.2M672.5 659.5v-10.5M673.5 659.5v-10.8M675.5 659.5v-6.4M676.5 659.5v-7.0M680.5 659.5v-14.1M681.5 659.5v-4.9M683.5 659.5v-9.0M685.5 659.5v-10.3M687.5 659.5v-11.8M689.5 659.5v-8.4M690.5 659.5v-9.6M692.5 659.5v-12.5M695.5 659.5v-5.7M698.5 659.5v-12.8M699.5 659.5v-6.7M701.5 659.5v-13.3M703.5 659.5v-15.3M704.5 659.5v-7.9M706.5 659.5v-14.5M707.5 659.5v-9.0M709.5 659.5v-14.0M711.5 659.5v-10.5M713.5 659.5v-7.6M717.5 659.5v-9.3M719.5 659.5v-10.1M722.5 659.5v-22.5M723.5 659.5v-8.7M728.5 659.5v-17.7M730.5 659.5v-20.5M731.5 659.5v-20.1M733.5 659.5v-12.9M734.5 659.5v-27.5M736.5 659.5v-19.9M739.5 659.5v-25.0M740.5 659.5v-36.0M741.5 659.5v-25.4M742.5 659.5v-28.5M743.5 659.5v-33.3M745.5 659.5v-28.8M746.5 659.5v-21.5M747.5 659.5v-38.5M748.5 659.5v-51.5M749.5 659.5v-38.5M750.5 659.5v-18.8M752.5 659.5v-28.9M753.5 659.5v-37.5M755.5 659.5v-28.5M756.5 659.5v-33.5M757.5 659.5v-19.5M759.5 659.5v-19.9M760.5 659.5v-29.5M764.5 659.5v-10.5M766.5 659.5v-24.5M768.5 659.5v-12.4M771.5 659.5v-42.5M773.5 659.5v-23.5M775.5 659.5v-16.8M778.5 659.5v-38.5M779.5 659.5v-15.0M782.5 659.5v-21.4M783.5 659.5v-20.7M786.5 659.5v-22.9M787.5 659.5v-18.3M789.5 659.5v-20.6M792.5 659.5v-10.9M795.5 659.5v-13.3M796.5 659.5v-11.1M798.5 659.5v-12.4M802.5 659.5v-12.6M803.5 659.5v-26.5M804.5 659.5v-17.6M805.5 659.5v-11.2M807.5 659.5v-15.5M811.5 659.5v-10.5M815.5 659.5v-25.5M816.5 659.5v-14.2M818.5 659.5v-13.3M820.5 659.5v-47.5M821.5 659.5v-19.9M822.5 659.5v-40.5M824.5 659.5v-25.5M827.5 659.5v-16.2M828.5 659.5v-19.8M829.5 659.5v-26.5M832.5 659.5v-14.1M834.5 659.5v-24.4M835.5 659.5v-38.5M836.5 659.5v-32.5M837.5 659.5v-15.0M841.5 659.5v-14.4M842.5 659.5v-40.5M843.5 659.5v-23.5M844.5 659.5v-24.4M847.5 659.5v-13.0M849.5 659.5v-8.7M852.5 659.5v-13.8M856.5 659.5v-12.4M858.5 659.5v-5.5M859.5 659.5v-16.4M861.5 659.5v-19.5M865.5 659.5v-13.9M867.5 659.5v-11.6M871.5 659.5v-15.2M873.5 659.5v-11.1M874.5 659.5v-15.8M876.5 659.5v-9.3M877.5 659.5v-12.3M879.5 659.5v-15.0M881.5 659.5v-8.1M883.5 659.5v-13.9M885.5 659.5v-8.4M886.5 659.5v-10.9M887.5 659.5v-27.5M889.5 659.5v-29.5M891.5 659.5v-21.0M894.5 659.5v-24.5M895.5 659.5v-28.5M896.5 659.5v-32.5M899.5 659.5v-25.4M900.5 659.5v-33.5M901.5 659.5v-24.0M903.5 659.5v-29.4M904.5 659.5v-35.5M905.5 659.5v-24.9M906.5 659.5v-44.5M908.5 659.5v-44.5M910.5 659.5v-27.9M911.5 659.5v-39.9M912.5 659.5v-37.5M913.5 659.5v-34.5M915.5 659.5v-24.4M916.5 659.5v-29.6M919.5 659.5v-22.4M920.5 659.5v-47.5M923.5 659.5v-78.5M926.5 659.5v-31.5M930.5 659.5v-39.5M931.5 659.5v-24.5M934.5 659.5v-22.5M935.5 659.5v-26.5M937.5 659.5v-20.5M938.5 659.5v-27.5M942.5 659.5v-31.5M945.5 659.5v-43.5M946.5 659.5v-31.5M949.5 659.5v-32.5M951.5 659.5v-52.5M956.5 659.5v-32.5M957.5 659.5v-22.5M959.5 659.5v-24.5M962.5 659.5v-18.5M963.5 659.5v-12.5M967.5 659.5v-61.5M968.5 659.5v-41.5M970.5 659.5v-16.5M971.5 659.5v-32.5M973.5 659.5v-4.5M975.5 659.5v-14.5M981.5 659.5v-23.5M984.5 659.5v-41.5M985.5 659.5v-27.5M986.5 659.5v-52.5M988.5 659.5v-38.5M989.5 659.5v-29.5M992.5 659.5v-38.5M993.5 659.5v-65.5M995.5 659.5v-72.5M996.5 659.5v-70.5M997.5 659.5v-46.5M999.5 659.5v-30.5M1000.5 659.5v-29.5M1006.5 659.5v-21.5M1007.5 659.5v-44.5M1008.5 659.5v-54.5M1010.5 659.5v-48.5M1011.5 659.5v-20.5M1013.5 659.5v-36.5M1014.5 659.5v-29.5M1015.5 659.5v-40.5M1017.5 659.5v-36.5M1019.5 659.5v-43.5M1021.5 659.5v-22.5M1022.5 659.5v-38.5M1024.5 659.5v-66.5M1025.5 659.5v-52.5M1026.5 659.5v-117.5M1032.5 659.5v-34.5M1033.5 659.5v-59.5M1035.5 659.5v-74.5M1036.5 659.5v-114.5M1037.5 659.5v-49.5M1039.5 659.5v-27.5M1040.5 659.5v-58.5M1043.5 659.5v-60.5M1044.5 659.5v-42.5M1046.5 659.5v-53.5M1047.5 659.5v-57.5M1048.5 659.5v-97.5M1050.5 659.5v-80.5M1051.5 659.5v-46.5M1057.5 659.5v-67.5M1058.5 659.5v-31.5M1059.5 659.5v-37.5M1061.5 659.5v-23.5M1062.5 659.5v-34.5M1064.5 659.5v-51.5M1065.5 659.5v-34.5M1069.5 659.5v-20.5M1070.5 659.5v-50.5M1072.5 659.5v-34.5M1073.5 659.5v-26.5M1076.5 659.5v-38.5M1077.5 659.5v-40.5M1081.5 659.5v-21.5M1083.5 659.5v-47.5M1084.5 659.5v-38.5M1086.5 659.5v-39.5M1087.5 659.5v-64.5M1088.5 659.5v-85.5M1090.5 659.5v-53.5M1091.5 659.5v-48.5M1094.5 659.5v-38.5M1095.5 659.5v-23.5M1097.5 659.5v-18.5M1098.5 659.5v-33.5M1099.5 659.5v-55.5M1101.5 659.5v-31.5M1102.5 659.5v-31.5M1108.5 659.5v-68.5M1109.5 659.5v-37.5M1110.5 659.5v-25.5M1112.5 659.5v-41.5M1113.5 659.5v-57.5M1115.5 659.5v-56.5M1116.5 659.5v-53.5M1119.5 659.5v-52.5M1120.5 659.5v-99.5M1121.5 659.5v-107.5" stroke="#bfbfbf" stroke-width="1" fill="none" shape-rendering="crispEdges"/>
<path d="M218.5 500.5V659.5M408.5 500.5V659.5M598.5 500.5V659.5M788.5 500.5V659.5M978.5 500.5V659.5M1168.5 500.5V659.5M86.5 623.5H1171.5M86.5 586.5H1171.5M86.5 550.5H1171.5M86.5 513.5H1171.5" stroke="#b0b0b0" stroke-width="1.1" fill="none"/>
</g>
<rect x="86.5" y="500.5" width="1085.0" height="159.0" fill="none" stroke="#000" stroke-width="1.1"/>
<g filter="url(#nf)">
<text transform="translate(68.02 664.90) scale(1.1150 1)" font-size="12.8" fill="#000">0</text>
<text transform="translate(28.33 628.10) scale(1.1150 1)" font-size="12.8" fill="#000">200000</text>
<text transform="translate(28.33 591.80) scale(1.1150 1)" font-size="12.8" fill="#000">400000</text>
<text transform="translate(28.33 555.00) scale(1.1150 1)" font-size="12.8" fill="#000">600000</text>
<text transform="translate(28.33 518.85) scale(1.1150 1)" font-size="12.8" fill="#000">800000</text>
<text transform="translate(191.15 679.20) scale(1.1300 1)" font-size="12.8" fill="#000">2021-01</text>
<text transform="translate(380.95 679.20) scale(1.1300 1)" font-size="12.8" fill="#000">2022-01</text>
<text transform="translate(571.25 679.20) scale(1.1300 1)" font-size="12.8" fill="#000">2023-01</text>
<text transform="translate(760.85 679.20) scale(1.1300 1)" font-size="12.8" fill="#000">2024-01</text>
<text transform="translate(952.15 679.20) scale(1.1300 1)" font-size="12.8" fill="#000">2025-01</text>
<text transform="translate(1141.85 679.20) scale(1.1300 1)" font-size="12.8" fill="#000">2026-01</text>
<text transform="translate(17.5 603.66) rotate(-90) scale(1.0076 1)" font-size="12.8">Volume</text>
<text transform="translate(85.87 717.10) scale(0.9009 1)" font-size="16.1" fill="#000">GLD</text>
<text x="120.8" y="718.6" font-size="16.4" fill="#000" textLength="65.6" lengthAdjust="spacingAndGlyphs" style="font-family:'Liberation Sans','Noto Sans CJK SC',sans-serif">交易次数</text>
<text transform="translate(186.80 717.10) scale(1.6308 1)" font-size="16.1" fill="#000">:</text>
<text transform="translate(197.71 717.10) scale(1.1266 1)" font-size="16.1" fill="#000">3</text>
<text x="86.2" y="738.5" font-size="16.4" fill="#000" textLength="98.4" lengthAdjust="spacingAndGlyphs" style="font-family:'Liberation Sans','Noto Sans CJK SC',sans-serif">策略总收益率</text>
<text transform="translate(184.80 737.10) scale(1.6308 1)" font-size="16.1" fill="#000">:</text>
<text transform="translate(196.15 737.10) scale(1.0318 1)" font-size="16.1" fill="#000">74.36%</text>
<text x="86.2" y="757.6" font-size="16.4" fill="#000" textLength="98.4" lengthAdjust="spacingAndGlyphs" style="font-family:'Liberation Sans','Noto Sans CJK SC',sans-serif">长期持有收益</text>
<text transform="translate(184.80 756.40) scale(1.6308 1)" font-size="16.1" fill="#000">:</text>
<text transform="translate(195.92 756.40) scale(1.0361 1)" font-size="16.1" fill="#000">99.46%</text>
<text x="86.2" y="776.7" font-size="16.1" fill="#000" textLength="64.4" lengthAdjust="spacingAndGlyphs" style="font-family:'Liberation Sans','Noto Sans CJK SC',sans-serif">交易记录</text>
<text transform="translate(150.31 776.10) scale(1.6961 1)" font-size="16.1" fill="#000">:</text>
<text transform="translate(96.01 792.60) scale(0.9737 1)" font-size="16.1" fill="#000">Buy Date</text>
<text transform="translate(171.93 792.60) scale(0.9617 1)" font-size="16.1" fill="#000">Buy Price</text>
<text transform="translate(248.67 792.60) scale(1.0019 1)" font-size="16.1" fill="#000">Sell Date</text>
<text transform="translate(325.27 792.60) scale(0.9962 1)" font-size="16.1" fill="#000">Sell Price</text>
<text transform="translate(402.59 792.60) scale(0.9899 1)" font-size="16.1" fill="#000">Holding Days</text>
<text transform="translate(507.10 792.60) scale(0.9822 1)" font-size="16.1" fill="#000">Profit %</text>
<text transform="translate(86.02 810.20) scale(1.0832 1)" font-size="16.1" fill="#000">2020-10-05</text>
<text transform="translate(200.56 810.20) scale(1.0931 1)" font-size="16.1" fill="#000">179.30</text>
<text transform="translate(259.92 810.20) scale(1.0886 1)" font-size="16.1" fill="#000">2024-05-06</text>
<text transform="translate(379.79 810.20) scale(1.1207 1)" font-size="16.1" fill="#000">215.21</text>
<text transform="translate(483.81 810.20) scale(1.1322 1)" font-size="16.1" fill="#000">1309</text>
<text transform="translate(549.40 810.20) scale(1.1090 1)" font-size="16.1" fill="#000">20.03</text>
<text transform="translate(86.03 828.40) scale(1.0805 1)" font-size="16.1" fill="#000">2024-06-04</text>
<text transform="translate(201.02 828.40) scale(1.0854 1)" font-size="16.1" fill="#000">215.26</text>
<text transform="translate(259.92 828.40) scale(1.0885 1)" font-size="16.1" fill="#000">2025-02-28</text>
<text transform="translate(379.79 828.40) scale(1.1292 1)" font-size="16.1" fill="#000">263.38</text>
<text transform="translate(490.09 828.40) scale(1.1230 1)" font-size="16.1" fill="#000">269</text>
<text transform="translate(545.20 828.40) scale(1.1090 1)" font-size="16.1" fill="#000">22.36</text>
<text transform="translate(86.02 845.40) scale(1.0850 1)" font-size="16.1" fill="#000">2025-06-27</text>
<text transform="translate(201.24 845.40) scale(1.0802 1)" font-size="16.1" fill="#000">301.25</text>
<text transform="translate(259.92 845.40) scale(1.0886 1)" font-size="16.1" fill="#000">2025-10-03</text>
<text transform="translate(380.02 845.40) scale(1.1143 1)" font-size="16.1" fill="#000">357.63</text>
<text transform="translate(494.35 845.40) scale(1.1304 1)" font-size="16.1" fill="#000">98</text>
<text transform="translate(539.62 845.40) scale(1.1241 1)" font-size="16.1" fill="#000">18.72</text>
</g>
</svg>
</body></html>
